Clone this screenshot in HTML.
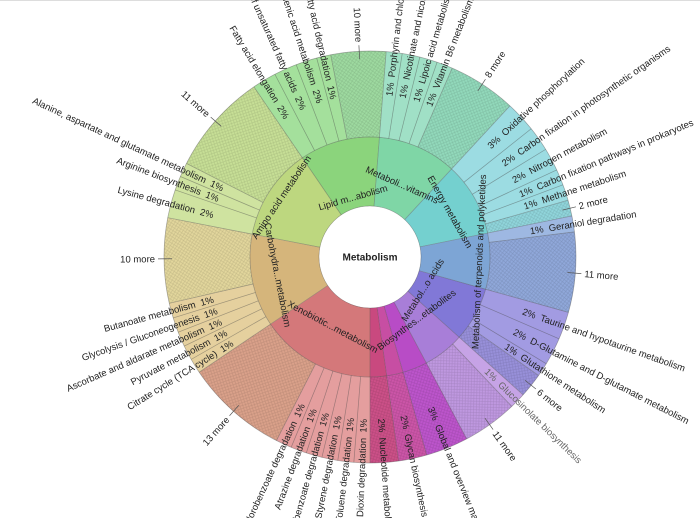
<!DOCTYPE html>
<html><head><meta charset="utf-8"><style>
html,body{margin:0;padding:0;background:#fff;width:700px;height:518px;overflow:hidden;}
svg{display:block;}
text{font-family:"Liberation Sans",Arial,sans-serif;font-size:9.5px;fill:#222;}
</style></head><body>
<svg width="700" height="518" viewBox="0 0 700 518" xmlns="http://www.w3.org/2000/svg" style="overflow:hidden">
<defs>
<pattern id="h" width="4" height="4" patternUnits="userSpaceOnUse"><path d="M0,4 L4,0 M0,0 L4,4" stroke="rgba(0,0,0,0.12)" stroke-width="0.6"/></pattern>
<clipPath id="c"><rect x="0" y="0" width="700" height="518"/></clipPath>
</defs>
<g clip-path="url(#c)">
<rect x="0" y="0" width="700" height="1" fill="#ddd"/>
<g transform="translate(370,257)">
<g fill="none" stroke-width="69">
<circle r="85.5" pathLength="360" stroke="#8bd47c" stroke-dasharray="38.8 400" transform="rotate(235.7)"/>
<circle r="85.5" pathLength="360" stroke="#7fd6a6" stroke-dasharray="38.3 400" transform="rotate(-85.5)"/>
<circle r="85.5" pathLength="360" stroke="#74d0cf" stroke-dasharray="35.7 400" transform="rotate(-47.2)"/>
<circle r="85.5" pathLength="360" stroke="#7da5d5" stroke-dasharray="27.1 400" transform="rotate(-11.5)"/>
<circle r="85.5" pathLength="360" stroke="#8178d7" stroke-dasharray="26.4 400" transform="rotate(15.6)"/>
<circle r="85.5" pathLength="360" stroke="#a87ed8" stroke-dasharray="20 400" transform="rotate(42)"/>
<circle r="85.5" pathLength="360" stroke="#b84cc6" stroke-dasharray="12 400" transform="rotate(62)"/>
<circle r="85.5" pathLength="360" stroke="#c74ea3" stroke-dasharray="8 400" transform="rotate(74)"/>
<circle r="85.5" pathLength="360" stroke="#c9497f" stroke-dasharray="8 400" transform="rotate(82)"/>
<circle r="85.5" pathLength="360" stroke="#d4787a" stroke-dasharray="56 400" transform="rotate(90)"/>
<circle r="85.5" pathLength="360" stroke="#d5b57b" stroke-dasharray="45 400" transform="rotate(146)"/>
<circle r="85.5" pathLength="360" stroke="#bdd77f" stroke-dasharray="44.7 400" transform="rotate(191)"/>
</g>
<g fill="none" stroke-width="86">
<circle r="163" pathLength="360" stroke="#a4e09c" stroke-dasharray="23.3 400" transform="rotate(235.7)"/>
<circle r="163" pathLength="360" stroke="#9edaa0" stroke-dasharray="15.5 400" transform="rotate(259)"/>
<circle r="163" pathLength="360" stroke="url(#h)" stroke-dasharray="15.5 400" transform="rotate(259)"/>
<circle r="163" pathLength="360" stroke="#a0e0c6" stroke-dasharray="19 400" transform="rotate(-85.5)"/>
<circle r="163" pathLength="360" stroke="#92d9bb" stroke-dasharray="19.3 400" transform="rotate(-66.5)"/>
<circle r="163" pathLength="360" stroke="url(#h)" stroke-dasharray="19.3 400" transform="rotate(-66.5)"/>
<circle r="163" pathLength="360" stroke="#9cdce2" stroke-dasharray="31.2 400" transform="rotate(-47.2)"/>
<circle r="163" pathLength="360" stroke="#90d5db" stroke-dasharray="4.5 400" transform="rotate(-16)"/>
<circle r="163" pathLength="360" stroke="url(#h)" stroke-dasharray="4.5 400" transform="rotate(-16)"/>
<circle r="163" pathLength="360" stroke="#9eb8e2" stroke-dasharray="4.5 400" transform="rotate(-11.5)"/>
<circle r="163" pathLength="360" stroke="#90a8da" stroke-dasharray="22.6 400" transform="rotate(-7)"/>
<circle r="163" pathLength="360" stroke="url(#h)" stroke-dasharray="22.6 400" transform="rotate(-7)"/>
<circle r="163" pathLength="360" stroke="#a29be2" stroke-dasharray="19.5 400" transform="rotate(15.6)"/>
<circle r="163" pathLength="360" stroke="#9890da" stroke-dasharray="6.9 400" transform="rotate(35.1)"/>
<circle r="163" pathLength="360" stroke="url(#h)" stroke-dasharray="6.9 400" transform="rotate(35.1)"/>
<circle r="163" pathLength="360" stroke="#c6a3e6" stroke-dasharray="4.5 400" transform="rotate(42)"/>
<circle r="163" pathLength="360" stroke="#bf98e0" stroke-dasharray="15.5 400" transform="rotate(46.5)"/>
<circle r="163" pathLength="360" stroke="url(#h)" stroke-dasharray="15.5 400" transform="rotate(46.5)"/>
<circle r="163" pathLength="360" stroke="#bd55cc" stroke-dasharray="12 400" transform="rotate(62)"/>
<circle r="163" pathLength="360" stroke="#cc55a8" stroke-dasharray="8 400" transform="rotate(74)"/>
<circle r="163" pathLength="360" stroke="#cc5088" stroke-dasharray="8 400" transform="rotate(82)"/>
<circle r="163" pathLength="360" stroke="url(#h)" stroke-dasharray="28 400" transform="rotate(62)"/>
<circle r="163" pathLength="360" stroke="#e49e9e" stroke-dasharray="27 400" transform="rotate(90)"/>
<circle r="163" pathLength="360" stroke="#daa18a" stroke-dasharray="29 400" transform="rotate(117)"/>
<circle r="163" pathLength="360" stroke="url(#h)" stroke-dasharray="29 400" transform="rotate(117)"/>
<circle r="163" pathLength="360" stroke="#e5d09e" stroke-dasharray="21 400" transform="rotate(146)"/>
<circle r="163" pathLength="360" stroke="#e2d69c" stroke-dasharray="24 400" transform="rotate(167)"/>
<circle r="163" pathLength="360" stroke="url(#h)" stroke-dasharray="24 400" transform="rotate(167)"/>
<circle r="163" pathLength="360" stroke="#cfe3a0" stroke-dasharray="16 400" transform="rotate(191)"/>
<circle r="163" pathLength="360" stroke="#c7df96" stroke-dasharray="28.7 400" transform="rotate(207)"/>
<circle r="163" pathLength="360" stroke="url(#h)" stroke-dasharray="28.7 400" transform="rotate(207)"/>
</g>
<g stroke="rgba(70,70,70,0.45)" stroke-width="0.7" fill="none">
<circle r="51"/><circle r="120"/><circle r="206"/>
<g>
<line y1="-51" y2="-120" transform="rotate(325.7)"/><line y1="-51" y2="-120" transform="rotate(4.5)"/>
<line y1="-51" y2="-120" transform="rotate(42.8)"/><line y1="-51" y2="-120" transform="rotate(78.5)"/>
<line y1="-51" y2="-120" transform="rotate(105.6)"/><line y1="-51" y2="-120" transform="rotate(132)"/>
<line y1="-51" y2="-120" transform="rotate(152)"/><line y1="-51" y2="-120" transform="rotate(164)"/>
<line y1="-51" y2="-120" transform="rotate(172)"/><line y1="-51" y2="-120" transform="rotate(180)"/>
<line y1="-51" y2="-120" transform="rotate(236)"/><line y1="-51" y2="-120" transform="rotate(281)"/>
</g>
<g>
<line y1="-120" y2="-206" transform="rotate(325.7)"/><line y1="-120" y2="-206" transform="rotate(332.5)"/>
<line y1="-120" y2="-206" transform="rotate(339)"/><line y1="-120" y2="-206" transform="rotate(345)"/>
<line y1="-120" y2="-206" transform="rotate(349)"/><line y1="-120" y2="-206" transform="rotate(4.5)"/>
<line y1="-120" y2="-206" transform="rotate(9)"/><line y1="-120" y2="-206" transform="rotate(14)"/>
<line y1="-120" y2="-206" transform="rotate(19)"/><line y1="-120" y2="-206" transform="rotate(23.5)"/>
<line y1="-120" y2="-206" transform="rotate(42.8)"/><line y1="-120" y2="-206" transform="rotate(51.5)"/>
<line y1="-120" y2="-206" transform="rotate(58.5)"/><line y1="-120" y2="-206" transform="rotate(65)"/>
<line y1="-120" y2="-206" transform="rotate(69.5)"/><line y1="-120" y2="-206" transform="rotate(74)"/>
<line y1="-120" y2="-206" transform="rotate(78.5)"/><line y1="-120" y2="-206" transform="rotate(83)"/>
<line y1="-120" y2="-206" transform="rotate(105.6)"/><line y1="-120" y2="-206" transform="rotate(113.4)"/>
<line y1="-120" y2="-206" transform="rotate(121.2)"/><line y1="-120" y2="-206" transform="rotate(125.1)"/>
<line y1="-120" y2="-206" transform="rotate(132)"/><line y1="-120" y2="-206" transform="rotate(136.5)"/>
<line y1="-120" y2="-206" transform="rotate(152)"/><line y1="-120" y2="-206" transform="rotate(164)"/>
<line y1="-120" y2="-206" transform="rotate(172)"/><line y1="-120" y2="-206" transform="rotate(180)"/>
<line y1="-120" y2="-206" transform="rotate(184.5)"/><line y1="-120" y2="-206" transform="rotate(189)"/>
<line y1="-120" y2="-206" transform="rotate(193.5)"/><line y1="-120" y2="-206" transform="rotate(198)"/>
<line y1="-120" y2="-206" transform="rotate(202.5)"/><line y1="-120" y2="-206" transform="rotate(207)"/>
<line y1="-120" y2="-206" transform="rotate(236)"/><line y1="-120" y2="-206" transform="rotate(240.2)"/>
<line y1="-120" y2="-206" transform="rotate(244.4)"/><line y1="-120" y2="-206" transform="rotate(248.6)"/>
<line y1="-120" y2="-206" transform="rotate(252.8)"/><line y1="-120" y2="-206" transform="rotate(257)"/>
<line y1="-120" y2="-206" transform="rotate(281)"/><line y1="-120" y2="-206" transform="rotate(289)"/>
<line y1="-120" y2="-206" transform="rotate(293)"/><line y1="-120" y2="-206" transform="rotate(297)"/>
</g>
</g>
<circle r="50.6" fill="#fff"/>
<text x="0" y="0" dy="0.35em" text-anchor="middle" style="font-weight:bold;font-size:10px">Metabolism</text>
<g text-anchor="middle">
<text transform="rotate(344) translate(0,-62)" dy="0.35em">Lipid m...abolism</text>
<text transform="rotate(24) translate(0,-79)" dy="0.35em">Metaboli...vitamins</text>
<text transform="rotate(60.6) translate(0,-92)" dy="0.35em">Energy metabolism</text>
<text transform="rotate(92.5) translate(0,-109) rotate(180)" dy="0.35em">Metabolism of terpenoids and polyketides</text>
<text transform="rotate(122) translate(0,-62) rotate(180)" dy="0.35em">Metabol...o acids</text>
<text transform="rotate(143.5) translate(0,-78) rotate(180)" dy="0.35em">Biosynthes...etabolites</text>
<text transform="rotate(208) translate(0,-79) rotate(180)" dy="0.35em">Xenobiotic...metabolism</text>
<text transform="rotate(259) translate(0,-94) rotate(180)" dy="0.35em">Carbohydra...metabolism</text>
<text transform="rotate(304) translate(0,-107)" dy="0.35em">Amino acid metabolism</text>
</g>
<g>
<text transform="rotate(-83.25)" x="162" dy="0.35em">1%&#160;&#160;Porphyrin and chlorophyll metabolism</text>
<text transform="rotate(-78.5)" x="162" dy="0.35em">1%&#160;&#160;Nicotinate and nicotinamide metabolism</text>
<text transform="rotate(-73.5)" x="162" dy="0.35em">1%&#160;&#160;Lipoic acid metabolism</text>
<text transform="rotate(-68.75)" x="162" dy="0.35em">1%&#160;&#160;Vitamin B6 metabolism</text>
<text transform="rotate(-42.8)" x="162" dy="0.35em">3%&#160;&#160;Oxidative phosphorylation</text>
<text transform="rotate(-35)" x="162" dy="0.35em">2%&#160;&#160;Carbon fixation in photosynthetic organisms</text>
<text transform="rotate(-28.2)" x="162" dy="0.35em">2%&#160;&#160;Nitrogen metabolism</text>
<text transform="rotate(-22.7)" x="162" dy="0.35em">1%&#160;&#160;Carbon fixation pathways in prokaryotes</text>
<text transform="rotate(-18.2)" x="162" dy="0.35em">1%&#160;&#160;Methane metabolism</text>
<text transform="rotate(-9.2)" x="162" dy="0.35em">1%&#160;&#160;Geraniol degradation</text>
<text transform="rotate(19.5)" x="162" dy="0.35em">2%&#160;&#160;Taurine and hypotaurine metabolism</text>
<text transform="rotate(27.3)" x="162" dy="0.35em">2%&#160;&#160;D-Glutamine and D-glutamate metabolism</text>
<text transform="rotate(33.2)" x="162" dy="0.35em">1%&#160;&#160;Glutathione metabolism</text>
<text transform="rotate(44.2)" x="162" dy="0.35em" style="fill:#666">1%&#160;&#160;Glucosinolate biosynthesis</text>
<text transform="rotate(68)" x="162" dy="0.35em">3%&#160;&#160;Global and overview maps</text>
<text transform="rotate(78)" x="162" dy="0.35em">2%&#160;&#160;Glycan biosynthesis and metabolism</text>
<text transform="rotate(86)" x="162" dy="0.35em">2%&#160;&#160;Nucleotide metabolism</text>
</g>
<g text-anchor="end">
<text transform="rotate(419.1)" x="-162" dy="0.35em">Fatty acid elongation&#160;&#160;2%</text>
<text transform="rotate(425.75)" x="-162" dy="0.35em">Biosynthesis of unsaturated fatty acids&#160;&#160;2%</text>
<text transform="rotate(432)" x="-162" dy="0.35em">alpha-Linolenic acid metabolism&#160;&#160;2%</text>
<text transform="rotate(437)" x="-162" dy="0.35em">Fatty acid degradation&#160;&#160;1%</text>
<text transform="rotate(272.25)" x="-162" dy="0.35em">Dioxin degradation&#160;&#160;1%</text>
<text transform="rotate(276.75)" x="-162" dy="0.35em">Toluene degradation&#160;&#160;1%</text>
<text transform="rotate(281.25)" x="-162" dy="0.35em">Styrene degradation&#160;&#160;1%</text>
<text transform="rotate(285.75)" x="-162" dy="0.35em">Aminobenzoate degradation&#160;&#160;1%</text>
<text transform="rotate(290.25)" x="-162" dy="0.35em">Atrazine degradation&#160;&#160;1%</text>
<text transform="rotate(294.75)" x="-162" dy="0.35em">Chlorobenzoate degradation&#160;&#160;1%</text>
<text transform="rotate(328.1)" x="-162" dy="0.35em">Citrate cycle (TCA cycle)&#160;&#160;1%</text>
<text transform="rotate(332.3)" x="-162" dy="0.35em">Pyruvate metabolism&#160;&#160;1%</text>
<text transform="rotate(336.5)" x="-162" dy="0.35em">Ascorbate and aldarate metabolism&#160;&#160;1%</text>
<text transform="rotate(340.7)" x="-162" dy="0.35em">Glycolysis / Gluconeogenesis&#160;&#160;1%</text>
<text transform="rotate(344.9)" x="-162" dy="0.35em">Butanoate metabolism&#160;&#160;1%</text>
<text transform="rotate(375)" x="-162" dy="0.35em">Lysine degradation&#160;&#160;2%</text>
<text transform="rotate(381)" x="-162" dy="0.35em">Arginine biosynthesis&#160;&#160;1%</text>
<text transform="rotate(385)" x="-162" dy="0.35em">Alanine, aspartate and glutamate metabolism&#160;&#160;1%</text>
</g>
<g stroke="#555" stroke-width="0.7">
<line y1="-198" y2="-212" transform="rotate(357)"/>
<line y1="-198" y2="-212" transform="rotate(33)"/>
<line y1="-198" y2="-212" transform="rotate(76.3)"/>
<line y1="-198" y2="-212" transform="rotate(94.5)"/>
<line y1="-198" y2="-212" transform="rotate(128.5)"/>
<line y1="-198" y2="-212" transform="rotate(144.5)"/>
<line y1="-198" y2="-212" transform="rotate(221.5)"/>
<line y1="-198" y2="-212" transform="rotate(269.5)"/>
<line y1="-198" y2="-212" transform="rotate(311.3)"/>
</g>
<text transform="rotate(447)" x="-215" dy="0.35em" text-anchor="end">10 more</text>
<text transform="rotate(-57)" x="215" dy="0.35em">8 more</text>
<text transform="rotate(-13.7)" x="215" dy="0.35em">2 more</text>
<text transform="rotate(4.5)" x="215" dy="0.35em">11 more</text>
<text transform="rotate(38.5)" x="215" dy="0.35em">6 more</text>
<text transform="rotate(54.5)" x="215" dy="0.35em">11 more</text>
<text transform="rotate(311.5)" x="-215" dy="0.35em" text-anchor="end">13 more</text>
<text transform="rotate(359.5)" x="-215" dy="0.35em" text-anchor="end">10 more</text>
<text transform="rotate(401.3)" x="-215" dy="0.35em" text-anchor="end">11 more</text>
</g>
</g>
</svg>
</body></html>
